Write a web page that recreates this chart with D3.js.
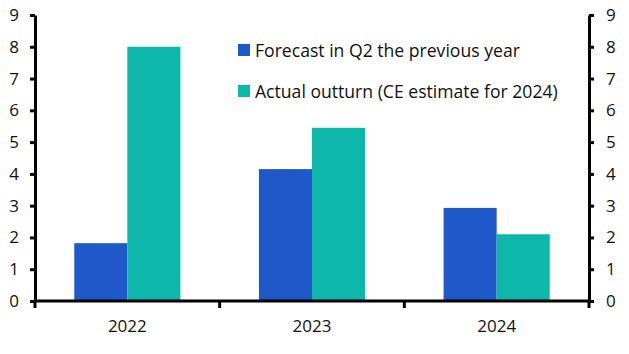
<!DOCTYPE html>
<html lang="en">
<head>
  <meta charset="UTF-8">
  <title>Forecast vs actual</title>
  <script src="https://d3js.org/d3.v7.min.js"></script>
  <style>
    body { margin: 0; background: #fff; }
    text { font-family: "Open Sans", sans-serif; fill: #111; }
  </style>
</head>
<body>
  <div id="chart"></div>

  <script>
    // Data
    const years = ["2022", "2023", "2024"];
    const seriesNames = ["Forecast in Q2 the previous year", "Actual outturn (CE estimate for 2024)"];
    const forecast = [1.82, 4.15, 2.93];
    const actual = [8.0, 5.45, 2.1];
    const yTicks = [0, 1, 2, 3, 4, 5, 6, 7, 8, 9];
    const colors = ["#1f58c9", "#0db8aa"];

    const W = 629, H = 354;
    const margin = { top: 15, right: 40, bottom: 53, left: 35 };

    const svg = d3.select("#chart")
      .append("svg")
      .attr("width", W)
      .attr("height", H);

    const x0 = d3.scaleBand()
      .domain(years)
      .range([margin.left, W - margin.right])
      .padding(0);

    const x1 = d3.scaleBand()
      .domain(seriesNames)
      .range([0, x0.bandwidth()])
      .paddingInner(0)
      .paddingOuter(0.74);

    const y = d3.scaleLinear()
      .domain([0, 9])
      .range([H - margin.bottom, margin.top]);

    const rows = years.map((yr, i) => ({ year: yr, values: [forecast[i], actual[i]] }));

    // bars
    const groups = svg.selectAll("g.year")
      .data(rows)
      .enter().append("g")
        .attr("class", "year")
        .attr("transform", d => "translate(" + x0(d.year) + ",0)");

    groups.selectAll("rect")
      .data(d => d.values.map((v, j) => ({ key: seriesNames[j], value: v, j: j })))
      .enter().append("rect")
        .attr("x", d => x1(d.key))
        .attr("width", x1.bandwidth())
        .attr("y", d => y(d.value))
        .attr("height", d => y(0) - y(d.value))
        .style("fill", d => colors[d.j]);

    // left axis
    const left = svg.append("g")
      .attr("transform", "translate(" + margin.left + ",0)")
      .call(d3.axisLeft(y).tickValues(yTicks).tickSize(5).tickPadding(11).tickSizeOuter(0));

    // right axis
    const right = svg.append("g")
      .attr("transform", "translate(" + (W - margin.right) + ",0)")
      .call(d3.axisRight(y).tickValues(yTicks).tickSize(5).tickPadding(12).tickSizeOuter(0));

    [left, right].forEach(g => {
      g.select(".domain").attr("stroke", "#000").attr("stroke-width", 3);
      g.selectAll(".tick line").attr("stroke", "#000").attr("stroke-width", 3);
      g.selectAll(".tick text").style("font-size", "17px").attr("fill", "#111");
    });

    // bottom axis: ticks at category boundaries
    const xAxisG = svg.append("g")
      .attr("transform", "translate(0," + y(0) + ")");
    xAxisG.append("line")
      .attr("x1", margin.left)
      .attr("x2", W - margin.right)
      .attr("stroke", "#000")
      .attr("stroke-width", 3);

    const bounds = years.map(d => x0(d)).concat([x0(years[years.length - 1]) + x0.bandwidth()]);
    xAxisG.selectAll("line.bt")
      .data(bounds)
      .enter().append("line")
        .attr("class", "bt")
        .attr("x1", d => d)
        .attr("x2", d => d)
        .attr("y1", 0)
        .attr("y2", 7)
        .attr("stroke", "#000")
        .attr("stroke-width", 3);

    xAxisG.selectAll("text.yl")
      .data(years)
      .enter().append("text")
        .attr("class", "yl")
        .attr("x", d => x0(d) + x0.bandwidth() / 2)
        .attr("y", 31)
        .attr("text-anchor", "middle")
        .style("font-size", "17px")
        .text(d => d);

    // legend
    const legend = svg.append("g")
      .attr("transform", "translate(238,44)");
    const items = legend.selectAll("g")
      .data(seriesNames)
      .enter().append("g")
        .attr("transform", (d, i) => "translate(0," + (i * 41) + ")");
    items.append("rect")
      .attr("width", 12)
      .attr("height", 12)
      .style("fill", (d, i) => colors[i]);
    items.append("text")
      .attr("x", 17)
      .attr("y", 12.5)
      .style("font-size", "17.6px")
      .text(d => d);
  </script>
</body>
</html>
